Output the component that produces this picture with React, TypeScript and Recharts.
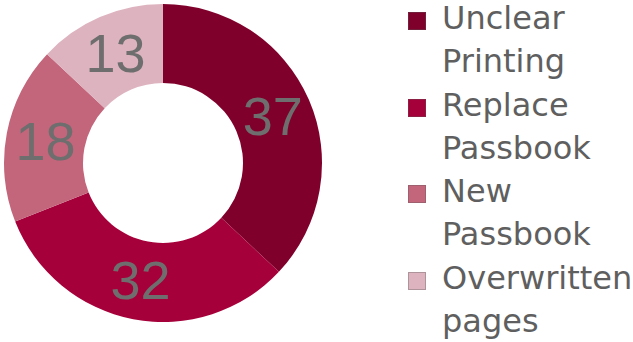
import { Cell, Legend, Pie, PieChart } from "recharts";

const categories = ["Unclear Printing", "Replace Passbook", "New Passbook", "Overwritten pages"];
const counts = [37, 32, 18, 13];
const colors = ["#80002c", "#a6003a", "#c3657b", "#ddb3bf"];

const data = categories.map((name, i) => ({ name, value: counts[i] }));

const RAD = Math.PI / 180;

// число внутри сектора, по середине кольца
function renderLabel(props: any) {
  const { cx, cy, midAngle, innerRadius, outerRadius, value } = props;
  const r = (innerRadius + outerRadius) / 2;
  const x = cx + r * Math.cos(-midAngle * RAD);
  const y = cy + r * Math.sin(-midAngle * RAD);
  return (
    <text
      x={x}
      y={y}
      fill="#6e6e6e"
      fontSize={54}
      fontFamily="'Liberation Sans', Arial, sans-serif"
      textAnchor="middle"
      dominantBaseline="central"
    >
      {value}
    </text>
  );
}

// легенда в исходном порядке категорий (без сортировки)
function LegendContent() {
  const line = { whiteSpace: "nowrap" as const, height: 37.3, marginBottom: 6 };
  return (
    <div style={{ fontFamily: "'DejaVu Sans', sans-serif", fontSize: 32, color: "#5f5f5f", lineHeight: "37.3px" }}>
      {categories.map((name, i) => {
        const sp = name.indexOf(" ");
        return (
          <div key={name} style={{ position: "relative", paddingLeft: 34 }}>
            <span
              style={{
                position: "absolute",
                left: 0,
                top: 12,
                width: 18,
                height: 18,
                background: colors[i],
                boxSizing: "border-box",
                border: "1px solid rgba(90,90,90,0.35)",
              }}
            />
            <div style={line}>{name.slice(0, sp)}</div>
            <div style={line}>{name.slice(sp + 1)}</div>
          </div>
        );
      })}
    </div>
  );
}

export default function App() {
  return (
    <div style={{ position: "absolute", left: 0, top: 0, width: 633, height: 342, background: "#fff", overflow: "hidden" }}>
      <PieChart width={633} height={342} margin={{ top: 0, right: 0, bottom: 0, left: 0 }}>
        <Pie
          data={data}
          dataKey="value"
          nameKey="name"
          cx={163}
          cy={163}
          innerRadius={80}
          outerRadius={159}
          startAngle={90}
          endAngle={-270}
          stroke="none"
          label={renderLabel}
          labelLine={false}
          isAnimationActive={false}
        >
          {data.map((d, i) => (
            <Cell key={d.name} fill={colors[i]} />
          ))}
        </Pie>
        <Legend
          layout="vertical"
          verticalAlign="top"
          align="right"
          content={<LegendContent />}
          wrapperStyle={{ left: 408, top: 0, width: 225, right: "auto" }}
        />
      </PieChart>
    </div>
  );
}
